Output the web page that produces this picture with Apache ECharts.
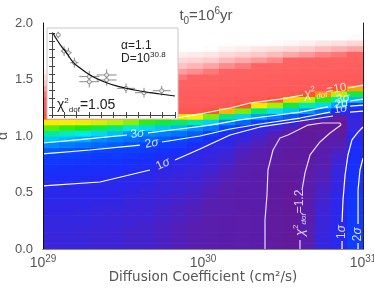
<!DOCTYPE html>
<html><head><meta charset="utf-8">
<script src="https://cdn.jsdelivr.net/npm/echarts@6/dist/echarts.min.js"></script>
<style>html,body{margin:0;padding:0;background:#fff}#c{width:374px;height:288px}</style>
</head><body><div id="c"></div>
<script>
// ---------------- DATA ----------------
const logD = [29.05,29.15,29.25,29.35,29.45,29.55,29.65,29.75,29.85,29.95,30.05,30.15,30.25,30.35,30.45,30.55,30.65,30.75,30.85,30.95];
const alphaRows = [0.025,0.075,0.125,0.175,0.225,0.275,0.325,0.375,0.425,0.475,0.525,0.575,0.625,0.675,0.725,0.775,0.825,0.875,0.925,0.975,1.025,1.075,1.125,1.175,1.225,1.275,1.325,1.375,1.425,1.475,1.525,1.575,1.625,1.675,1.725,1.775,1.825,1.875,1.925,1.975];
// reduced chi^2 per logD column, bottom (alpha=0.025) to top (alpha=1.975)
const chi2Cols = [
 [1.28,1.28,1.28,1.29,1.29,1.29,1.30,1.30,1.31,1.32,1.33,1.35,1.44,1.53,1.62,1.71,1.79,2.07,2.43,2.96,3.74,5.05,7.05,10.5,15.5,23,31,47,72,97,122,147,170,200,220,240,250,250,250,250],
 [1.28,1.28,1.28,1.29,1.29,1.29,1.30,1.30,1.31,1.32,1.33,1.34,1.42,1.51,1.60,1.69,1.78,1.99,2.33,2.80,3.51,4.77,6.97,10.5,15.5,22,29,36,62,87,112,137,161,190,215,235,250,250,250,250],
 [1.28,1.28,1.28,1.28,1.29,1.29,1.29,1.30,1.31,1.31,1.32,1.33,1.40,1.49,1.58,1.67,1.76,1.92,2.26,2.69,3.32,4.57,6.8,10.5,15.5,21.7,28,34,57,81,105,129,153,180,205,230,250,250,250,250],
 [1.27,1.27,1.27,1.28,1.28,1.28,1.29,1.29,1.30,1.31,1.32,1.33,1.38,1.47,1.56,1.65,1.74,1.85,2.16,2.47,3.11,4.28,6.46,10,15,21,27,32,47,71,95,119,143,165,195,220,240,250,250,250],
 [1.27,1.27,1.27,1.27,1.28,1.28,1.28,1.29,1.30,1.30,1.31,1.32,1.37,1.45,1.54,1.63,1.72,1.81,2.08,2.36,2.87,3.9,5.99,9.6,14.5,19.7,25,30,35.5,61,85,109,133,157,185,210,230,245,250,250],
 [1.26,1.26,1.26,1.26,1.27,1.27,1.27,1.28,1.28,1.29,1.30,1.31,1.33,1.40,1.49,1.58,1.67,1.77,1.96,2.24,2.52,3.46,5.42,9.1,14,18.9,23.8,28.6,33.5,52,76,100,124,148,172,200,225,240,250,250],
 [1.26,1.26,1.26,1.26,1.26,1.27,1.27,1.27,1.28,1.28,1.29,1.30,1.31,1.33,1.43,1.53,1.63,1.73,1.81,2.13,2.41,3.12,4.73,8.5,13,18.3,22.8,27.3,31.8,42,66,90,114,138,162,190,215,235,250,250],
 [1.25,1.25,1.25,1.25,1.25,1.26,1.26,1.26,1.27,1.27,1.28,1.28,1.29,1.30,1.32,1.38,1.51,1.65,1.78,2.04,2.35,2.95,4.42,7.9,12.5,17.7,21.9,26.1,30.4,34.6,57,81,105,129,153,180,205,228,245,250],
 [1.24,1.24,1.24,1.24,1.24,1.25,1.25,1.25,1.26,1.26,1.27,1.27,1.28,1.29,1.30,1.32,1.42,1.57,1.72,1.92,2.26,2.79,4.15,7.3,12,17.2,21,25,29,33,47,71,95,119,143,167,195,220,240,250],
 [1.23,1.23,1.23,1.23,1.23,1.24,1.24,1.24,1.25,1.25,1.26,1.26,1.27,1.28,1.29,1.30,1.31,1.36,1.56,1.76,2.08,2.46,3.69,7,12,17.1,20.7,24.4,28,31.7,35,62,87,112,137,162,190,215,238,250],
 [1.22,1.22,1.22,1.22,1.22,1.22,1.23,1.23,1.23,1.24,1.24,1.25,1.25,1.26,1.27,1.28,1.29,1.30,1.33,1.58,1.80,2.29,3.06,5.3,10.5,17,20.5,24,27.5,31,34.5,48.6,76,103,130,157,185,210,235,250],
 [1.21,1.21,1.21,1.21,1.21,1.21,1.22,1.22,1.22,1.22,1.23,1.23,1.24,1.24,1.25,1.26,1.27,1.28,1.30,1.32,1.55,1.88,2.43,3.88,7.95,13.5,17.7,21,24.4,27.8,31.2,34.6,60,89,117,146,175,205,230,250],
 [1.20,1.20,1.20,1.20,1.20,1.20,1.20,1.21,1.21,1.21,1.21,1.22,1.22,1.22,1.23,1.23,1.24,1.25,1.26,1.28,1.31,1.58,2.16,3.06,5.3,10.3,15.5,19.2,22.7,26.2,29.7,33.2,50,80,110,140,168,200,230,250],
 [1.21,1.21,1.21,1.21,1.21,1.21,1.21,1.21,1.21,1.21,1.21,1.21,1.21,1.21,1.22,1.22,1.22,1.23,1.24,1.25,1.27,1.33,1.89,2.6,3.97,7.05,12.5,17.1,20.8,24.4,28,31.7,35,69,100,131,162,195,228,250],
 [1.14,1.14,1.14,1.14,1.14,1.14,1.14,1.14,1.15,1.15,1.15,1.15,1.16,1.16,1.17,1.17,1.18,1.19,1.21,1.22,1.24,1.28,1.64,2.3,3.22,5.66,10.5,15.5,19.3,23,26.6,30.3,33.9,58,91,124,157,190,225,250],
 [1.12,1.12,1.12,1.12,1.12,1.12,1.12,1.12,1.12,1.12,1.13,1.13,1.13,1.13,1.14,1.14,1.15,1.16,1.17,1.19,1.21,1.24,1.35,2.07,2.94,4.33,7.5,12.5,17.1,20.8,24.4,28,31.7,35,80,115,150,185,220,250],
 [1.22,1.22,1.22,1.22,1.22,1.21,1.21,1.21,1.21,1.21,1.21,1.20,1.20,1.19,1.18,1.17,1.16,1.15,1.14,1.13,1.12,1.11,1.22,1.76,2.5,3.64,6.0,10.2,15.5,19.4,23.2,27,30.8,34.6,68,105,142,180,220,250],
 [1.29,1.29,1.29,1.28,1.28,1.28,1.27,1.27,1.26,1.26,1.25,1.25,1.24,1.24,1.23,1.23,1.22,1.21,1.20,1.18,1.14,1.10,1.16,1.32,2.16,3.12,4.7,8.5,13.5,17.9,21.7,25.5,29.3,33.1,55,94,133,172,215,250],
 [1.33,1.33,1.33,1.33,1.33,1.32,1.32,1.32,1.31,1.31,1.30,1.30,1.29,1.29,1.28,1.27,1.26,1.25,1.23,1.21,1.17,1.10,1.10,1.20,1.52,2.6,3.64,6.0,10.2,15.5,19.7,23.8,28,32,47,86,125,162,210,250],
 [1.75,1.75,1.74,1.73,1.72,1.71,1.70,1.68,1.67,1.65,1.63,1.61,1.59,1.57,1.55,1.52,1.49,1.46,1.42,1.37,1.32,1.29,1.28,1.30,1.33,1.76,2.81,4.3,8.3,13.5,18.2,22.5,26.8,31.1,35,78,117,156,205,250]
];
const xTicks = [29, 30, 31];
const yTicks = [0, 0.5, 1.0, 1.5, 2.0];

// contour lines [logD, alpha], split where the labels sit
const sigma3Upper = [[[29.0,0.938],[29.2625,0.973],[29.525,1.009]],[[29.656,1.027],[29.856,1.062],[30.044,1.097],[30.231,1.142],[30.419,1.177],[30.606,1.212],[30.781,1.257]],[[30.919,1.310],[31.0,1.327]]];
const sigma2Upper = [[[29.0,0.841],[29.294,0.876],[29.606,0.920]],[[29.744,0.947],[29.981,1.0],[30.169,1.062],[30.356,1.106],[30.606,1.159],[30.794,1.212]],[[30.919,1.265],[31.0,1.274]]];
const sigma1Upper = [[[29.0,0.558],[29.356,0.593],[29.669,0.699]],[[29.825,0.788],[29.981,0.885],[30.169,1.009],[30.356,1.080],[30.606,1.133],[30.8125,1.177]],[[30.919,1.212],[31.0,1.221]]];
const sigma1Right = [[[31.0,1.080],[30.969,1.035],[30.931,0.965],[30.906,0.832],[30.888,0.655],[30.875,0.434],[30.869,0.239]],[[30.869,0.071],[30.869,0.0]]];
const sigma2Right = [[[31.0,0.805],[30.981,0.699],[30.969,0.522],[30.969,0.221]],[[30.969,0.053],[30.969,0.0]]];
const chi2Level12 = [[[30.3875,0.0],[30.3875,0.257],[30.4,0.478],[30.406,0.699],[30.4375,0.876],[30.481,0.982],[30.531,1.009],[30.594,1.053],[30.656,1.097],[30.744,1.115],[30.856,1.115],[30.8625,1.097],[30.794,1.027],[30.731,0.947],[30.669,0.832],[30.6375,0.673],[30.619,0.522]],[[30.606,0.080],[30.606,0.0]]];
const chi2Level10 = [[[29.8375,1.159],[29.981,1.195],[30.169,1.248],[30.294,1.292],[30.481,1.327],[30.625,1.363]],[[30.906,1.425],[31.0,1.451]]];

// contour labels: [level, logD, alpha, rotation]
const sigmaLabels = [['3',29.59,1.018,7],['2',29.68,0.935,10],['1',29.75,0.752,25],['3',30.875,1.33,10],['2',30.865,1.285,10],['1',30.86,1.24,8],['1',30.869,0.15,90],['2',30.969,0.13,90]];
const chiLabels = [['10',30.765,1.398,10],['1.2',30.606,0.32,90]];

// inset: fitted data
const insetX    = [5.1, 9.8, 13.3, 18.2, 30.3, 30.3, 44.4, 44.4, 60.2, 74.8, 89.2];
const insetY    = [9.76, 7.8, 7.6, 6.38, 4.68, 4.06, 4.88, 4.27, 3.25, 2.72, 2.96];
const insetXErr = [1.5, 2.7, 2.7, 3.3, 8.1, 8.1, 8.1, 8.1, 7.3, 7.3, 7.3];
const insetYErr = [0.4, 0.6, 0.6, 0.6, 0.7, 0.7, 0.7, 0.7, 0.6, 0.6, 0.6];
const fitX = [0.8, 4.1, 8.1, 11.4, 17.1, 22.8, 30.9, 39.0, 47.2, 59.3, 71.5, 87.8, 100];
const fitY = [10.0, 9.15, 8.29, 7.68, 6.46, 5.73, 4.88, 4.27, 3.78, 3.29, 2.93, 2.56, 2.32];

// ---------------- STYLE ----------------
const FONT = 'Liberation Sans, Arial, sans-serif';
const WFONT = 'DejaVu Sans, sans-serif';
const GRAY = '#555';
const COLOR_STOPS = [
 [1.00,[105,22,135]],[1.12,[98,26,155]],[1.23,[88,30,175]],[1.27,[62,36,214]],[1.31,[44,39,234]],[1.4,[32,42,245]],
 [1.6,[22,48,252]],[1.9,[8,72,255]],[2.3,[0,120,255]],[2.8,[0,185,255]],[3.3,[0,235,235]],
 [3.9,[0,235,130]],[4.6,[30,235,20]],[5.6,[160,240,0]],[7,[255,235,0]],[8.5,[255,150,0]],
 [10,[255,85,45]],[13,[255,88,88]],[35,[255,98,98]],[60,[255,140,140]],[100,[255,200,200]],[160,[255,255,255]]
];
function colorFor(v) {
  if (v <= COLOR_STOPS[0][0]) return 'rgb(' + COLOR_STOPS[0][1].join(',') + ')';
  for (let i = 0; i < COLOR_STOPS.length - 1; i++) {
    const a = COLOR_STOPS[i], b = COLOR_STOPS[i + 1];
    if (v <= b[0]) {
      const t = (v - a[0]) / (b[0] - a[0]);
      const c = a[1].map((ch, k) => Math.round(ch + (b[1][k] - ch) * t));
      return 'rgb(' + c.join(',') + ')';
    }
  }
  return 'rgb(255,255,255)';
}

const DX = logD[1] - logD[0];
const DY = alphaRows[1] - alphaRows[0];
const heatData = [];
logD.forEach((x, c) => alphaRows.forEach((a, r) => heatData.push([x, a, chi2Cols[c][r]])));

const series = [];
series.push({
  type: 'custom', xAxisIndex: 0, yAxisIndex: 0, z: 1, clip: true, silent: true,
  data: heatData,
  renderItem: function (params, api) {
    const x = api.value(0), y = api.value(1);
    const p0 = api.coord([x - DX / 2, y + DY / 2]);
    const p1 = api.coord([x + DX / 2, y - DY / 2]);
    return { type: 'rect', shape: { x: p0[0], y: p0[1], width: p1[0] - p0[0] + 0.6, height: p1[1] - p0[1] + 0.6 },
             style: { fill: colorFor(api.value(2)) } };
  }
});

function addContour(segs, color) {
  segs.forEach(seg => series.push({
    type: 'line', xAxisIndex: 0, yAxisIndex: 0, data: seg, symbol: 'none', z: 4, silent: true,
    lineStyle: { color: color, width: 1.2 }
  }));
}
addContour(sigma3Upper, '#fff');
addContour(sigma2Upper, '#fff');
addContour(sigma1Upper, '#fff');
addContour(sigma1Right, '#fff');
addContour(sigma2Right, '#fff');
addContour(chi2Level12, 'rgba(240,228,248,0.95)');
addContour(chi2Level10, '#fff');

const labelRich = {
  w: { color: '#fff', fontSize: 12, fontFamily: FONT, lineHeight: 16 },
  i: { color: '#fff', fontSize: 12, fontFamily: FONT, fontStyle: 'italic', lineHeight: 16 },
  x: { color: '#fff', fontSize: 13, fontFamily: FONT, fontStyle: 'italic', lineHeight: 16 },
  sp: { color: '#fff', fontSize: 8, fontFamily: FONT, verticalAlign: 'top', lineHeight: 8 },
  sb: { color: '#fff', fontSize: 8, fontFamily: FONT, fontStyle: 'italic', verticalAlign: 'bottom', lineHeight: 8 }
};
const labelData = [];
sigmaLabels.forEach(l => labelData.push({ value: [l[1], l[2]], label: { rotate: l[3], formatter: '{w|' + l[0] + '}{i|σ}' } }));
chiLabels.forEach(l => labelData.push({ value: [l[1], l[2]], label: { rotate: l[3], formatter: '{x|χ}{sp|2}{sb|dof}{w|=' + l[0] + '}' } }));
series.push({
  type: 'scatter', xAxisIndex: 0, yAxisIndex: 0, symbolSize: 0, z: 6, silent: true,
  data: labelData,
  label: { show: true, position: 'inside', rich: labelRich }
});

// inset series
const errData = insetX.map((x, i) => [x, insetY[i], insetXErr[i], insetYErr[i]]);
series.push({
  type: 'custom', xAxisIndex: 2, yAxisIndex: 2, z: 20, silent: true, data: errData,
  renderItem: function (params, api) {
    const x = api.value(0), y = api.value(1), ex = api.value(2), ey = api.value(3);
    const a = api.coord([x - ex, y]), b = api.coord([x + ex, y]);
    const c = api.coord([x, y - ey]), d = api.coord([x, y + ey]);
    const st = { stroke: '#8a8a8a', lineWidth: 1 };
    return { type: 'group', children: [
      { type: 'line', shape: { x1: a[0], y1: a[1], x2: b[0], y2: b[1] }, style: st },
      { type: 'line', shape: { x1: c[0], y1: c[1], x2: d[0], y2: d[1] }, style: st }
    ] };
  }
});
series.push({
  type: 'scatter', xAxisIndex: 2, yAxisIndex: 2, z: 21, silent: true, symbol: 'circle', symbolSize: 4,
  itemStyle: { color: '#fff', borderColor: '#777', borderWidth: 1 },
  data: insetX.map((x, i) => [x, insetY[i]])
});
series.push({
  type: 'line', xAxisIndex: 2, yAxisIndex: 2, z: 22, silent: true, symbol: 'none', smooth: true,
  lineStyle: { color: '#111', width: 1.2 },
  data: fitX.map((x, i) => [x, fitY[i]])
});

const noLab = { show: false };
const option = {
  animation: false,
  backgroundColor: '#fff',
  title: {
    text: '{a|t}{b|0}{a|=10}{c|6}{a|yr}', left: 201, top: 1, textAlign: 'center',
    textStyle: { fontWeight: 'normal', rich: {
      a: { fontSize: 15, color: GRAY, fontFamily: FONT, fontWeight: 'normal', lineHeight: 20 },
      b: { fontSize: 10, color: GRAY, fontFamily: FONT, fontWeight: 'normal', verticalAlign: 'bottom', lineHeight: 10 },
      c: { fontSize: 10, color: GRAY, fontFamily: FONT, fontWeight: 'normal', verticalAlign: 'top', lineHeight: 10 }
    } }
  },
  grid: [
    { left: 43, top: 23, right: 11, bottom: 39, outerBoundsMode: 'none', containLabel: false },
    { left: 52, top: 33, width: 123, height: 82, outerBoundsMode: 'none', containLabel: false }
  ],
  xAxis: [
    { type: 'value', gridIndex: 0, min: 29, max: 31, interval: 1, z: 10,
      axisLine: { lineStyle: { color: '#111', width: 1 } }, axisTick: { show: false }, splitLine: { show: false },
      axisLabel: { margin: 5, formatter: v => xTicks.indexOf(v) >= 0 ? '{b|10}{s|' + v + '}' : '',
        rich: { b: { fontSize: 14, color: GRAY, fontFamily: FONT, lineHeight: 18 },
                s: { fontSize: 10, color: GRAY, fontFamily: FONT, verticalAlign: 'top', lineHeight: 10 } } },
      name: 'Diffusion Coefficient (cm²/s)', nameLocation: 'middle', nameGap: 21, nameMoveOverlap: false,
      nameTextStyle: { fontSize: 13.5, color: GRAY, fontFamily: WFONT } },
    { type: 'value', gridIndex: 0, min: 29, max: 31, position: 'top', z: 10,
      axisLine: { lineStyle: { color: '#888', width: 1 } }, axisTick: { show: false }, splitLine: { show: false }, axisLabel: noLab },
    { type: 'value', gridIndex: 1, min: 0, max: 100, interval: 10, z: 20,
      axisLine: { lineStyle: { color: '#444' } }, axisTick: { inside: true, length: 3, lineStyle: { color: '#444' } },
      splitLine: { show: false }, axisLabel: noLab },
    { type: 'value', gridIndex: 1, min: 0, max: 100, interval: 10, position: 'top', z: 20,
      axisLine: { lineStyle: { color: '#444' } }, axisTick: { inside: true, length: 3, lineStyle: { color: '#444' } },
      splitLine: { show: false }, axisLabel: noLab }
  ],
  yAxis: [
    { type: 'value', gridIndex: 0, min: 0, max: 2, interval: 0.5, z: 10,
      axisLine: { show: true, lineStyle: { color: '#111', width: 1 } }, axisTick: { show: false }, splitLine: { show: false },
      axisLabel: { margin: 10, fontSize: 13, color: GRAY, fontFamily: FONT,
        formatter: v => yTicks.indexOf(v) >= 0 ? v.toFixed(1) : '' },
      name: 'α', nameLocation: 'middle', nameGap: 33, nameRotate: 90, nameMoveOverlap: false,
      nameTextStyle: { fontSize: 14, color: GRAY, fontFamily: FONT } },
    { type: 'value', gridIndex: 0, min: 0, max: 2, position: 'right', z: 10,
      axisLine: { show: true, lineStyle: { color: '#222', width: 1 } }, axisTick: { show: false }, splitLine: { show: false }, axisLabel: noLab },
    { type: 'value', gridIndex: 1, min: 0, max: 10, interval: 1, z: 20,
      axisLine: { show: true, lineStyle: { color: '#444' } }, axisTick: { inside: true, length: 3, lineStyle: { color: '#444' } },
      splitLine: { show: false }, axisLabel: noLab },
    { type: 'value', gridIndex: 1, min: 0, max: 10, interval: 1, position: 'right', z: 20,
      axisLine: { show: true, lineStyle: { color: '#444' } }, axisTick: { inside: true, length: 3, lineStyle: { color: '#444' } },
      splitLine: { show: false }, axisLabel: noLab }
  ],
  graphic: [
    { type: 'rect', z: 15, silent: true, shape: { x: 47, y: 28, width: 131, height: 91 }, style: { fill: '#fff', stroke: '#c8c8c8', lineWidth: 1 } },
    { type: 'text', z: 30, silent: true, x: 121, y: 40, style: { text: 'α=1.1', font: '12px ' + FONT, fill: '#222' } },
    { type: 'text', z: 30, silent: true, x: 121, y: 51, style: { text: '{a|D=10}{s|30.8}', rich: {
        a: { fontSize: 12, fill: '#222', fontFamily: FONT, lineHeight: 15 },
        s: { fontSize: 8, fill: '#222', fontFamily: FONT, verticalAlign: 'top', lineHeight: 8 } } } },
    { type: 'text', z: 30, silent: true, x: 57, y: 97, style: { text: '{a|χ}{s|2}{d|dof}{a|=1.05}', rich: {
        a: { fontSize: 14, fill: '#222', fontFamily: FONT, lineHeight: 17 },
        s: { fontSize: 8, fill: '#222', fontFamily: FONT, verticalAlign: 'top', lineHeight: 8 },
        d: { fontSize: 8, fill: '#222', fontFamily: FONT, verticalAlign: 'bottom', lineHeight: 8 } } } }
  ],
  series: series
};
const chart = echarts.init(document.getElementById('c'), null, { renderer: 'canvas', width: 374, height: 288 });
chart.setOption(option);
</script>
</body></html>
